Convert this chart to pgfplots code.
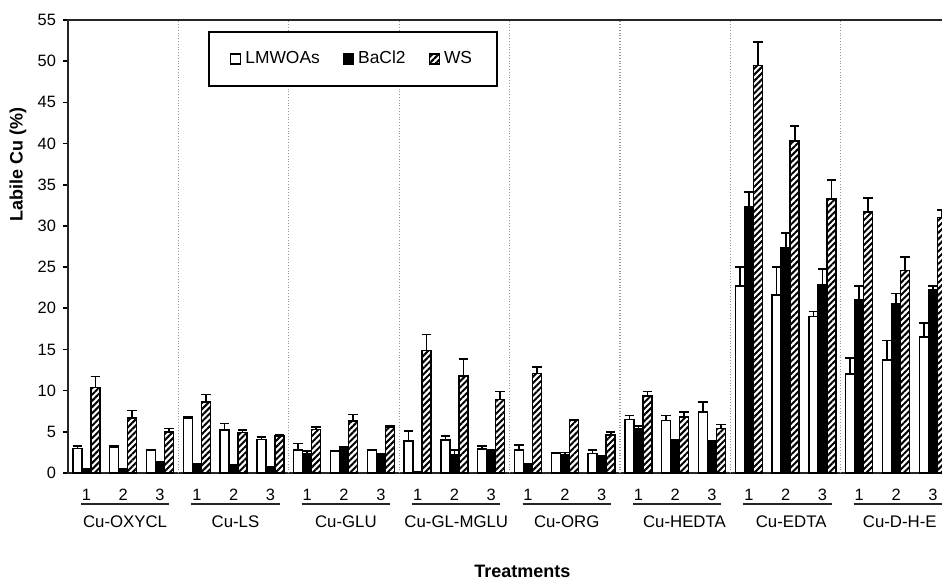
\documentclass[border=0pt]{standalone}
\usepackage{fontspec}
\setmainfont{Liberation Sans}
\usepackage{pgfplots}
\usepackage{pgfplotstable}
\pgfplotsset{compat=1.18}
\usetikzlibrary{patterns,patterns.meta}

\pgfplotstableread{
x y e
0 3.0 0.3
1 3.1 0.2
2 2.7 0.15
3 6.7 0.1
4 5.2 0.8
5 4.1 0.3
6 2.8 0.8
7 2.6 0.1
8 2.7 0.1
9 3.9 1.2
10 4.0 0.5
11 2.9 0.4
12 2.8 0.6
13 2.4 0.05
14 2.4 0.4
15 6.5 0.5
16 6.4 0.6
17 7.4 1.2
18 22.7 2.3
19 21.6 3.4
20 19.0 0.6
21 12.0 2.0
22 13.7 2.4
23 16.5 1.7
}\lmw

\pgfplotstableread{
x y e
0 0.45 0.1
1 0.5 0.05
2 1.25 0.05
3 1.1 0.05
4 0.9 0.05
5 0.7 0.05
6 2.4 0.3
7 2.9 0.3
8 2.2 0.1
9 0.1 0.05
10 2.2 0.6
11 2.7 0.1
12 1.1 0.05
13 2.2 0.3
14 1.8 0.3
15 5.4 0.3
16 3.8 0.2
17 3.8 0.1
18 32.3 1.8
19 27.3 1.8
20 22.9 1.9
21 21.1 1.6
22 20.5 1.3
23 22.2 0.5
}\bacl

\pgfplotstableread{
x y e
0 10.4 1.3
1 6.7 0.9
2 5.0 0.4
3 8.6 0.95
4 4.9 0.3
5 4.5 0.1
6 5.3 0.3
7 6.3 0.8
8 5.6 0.1
9 14.9 1.9
10 11.8 2.0
11 8.95 0.95
12 12.1 0.8
13 6.35 0.1
14 4.6 0.4
15 9.35 0.55
16 6.8 0.6
17 5.4 0.5
18 49.5 2.8
19 40.3 1.8
20 33.25 2.3
21 31.7 1.7
22 24.6 1.6
23 31.0 0.9
}\ws

\pgfplotsset{
  mylegend/.style={legend image code/.code={\draw[##1] (0pt,-2.5pt) rectangle (5pt,2.5pt);}},
  myerr/.style={error bars/.cd, y dir=plus, y explicit,
     error bar style={line width=0.85pt, black},
     error mark options={rotate=90, line width=0.85pt, mark size=2.4pt, black}},
}

\begin{document}
\begin{tikzpicture}
\begin{axis}[
  scale only axis, width=438.5pt, height=226.5pt,
  xmin=-0.5, xmax=23.33, ymin=0, ymax=55,
  ybar=0pt, bar width=0.245,
  clip=false,
  axis line style={line width=1pt, black!85},
  tick align=outside, major tick length=2.5pt,
  ytick={0,5,...,55}, ytick pos=left,
  xtick={0,...,23},
  xticklabels={1,2,3,1,2,3,1,2,3,1,2,3,1,2,3,1,2,3,1,2,3,1,2,3},
  xtick style={draw=none},
  extra x ticks={2.5,5.5,8.5,11.5,14.5,17.5,20.5},
  extra x tick labels={},
  extra x tick style={grid=major, major grid style={densely dotted, black!40, line width=0.6pt}, tick style={draw=none}},
  ytick style={line width=0.8pt, black},
  /pgf/number format/assume math mode=true,
  ticklabel style={font=\fontsize{8.2}{9.5}\selectfont},
  xticklabel style={yshift=-2pt},
  every axis x label/.style={at={(axis description cs:0.518,0)}, yshift=-49pt, anchor=center, font=\bfseries\fontsize{9}{11}\selectfont},
  every axis y label/.style={at={(axis description cs:0,0.68)}, xshift=-25pt, rotate=90, anchor=center, font=\bfseries\fontsize{9}{11}\selectfont},
  xlabel={Treatments},
  ylabel={Labile Cu (\%)},
  legend columns=3,
  legend style={at={(axis description cs:0.1596,0.9757)}, anchor=north west,
     draw=black, line width=1pt, font=\fontsize{8.7}{10}\selectfont,
     inner xsep=10.5pt, inner ysep=7.5pt,
     /tikz/every even column/.append style={column sep=9.5pt}},
]
\addplot[draw=black, fill=white, line width=0.7pt, mylegend, myerr] table[x=x, y=y, y error=e] {\lmw};
\addlegendentry{LMWOAs}
\addplot[draw=black, fill=black, line width=0.7pt, mylegend, myerr] table[x=x, y=y, y error=e] {\bacl};
\addlegendentry{BaCl2}
\addplot[draw=black, pattern={Lines[angle=45, distance=2.2pt, line width=1pt]}, pattern color=black, line width=0.7pt, mylegend, myerr] table[x=x, y=y, y error=e] {\ws};
\addlegendentry{WS}

\draw[line width=0.75pt, black!85] ([yshift=-15.5pt]axis cs:-0.15,0) -- ([yshift=-15.5pt]axis cs:2.25,0);
\draw[line width=0.75pt, black!85] ([yshift=-15.5pt]axis cs:2.85,0) -- ([yshift=-15.5pt]axis cs:5.25,0);
\draw[line width=0.75pt, black!85] ([yshift=-15.5pt]axis cs:5.85,0) -- ([yshift=-15.5pt]axis cs:8.25,0);
\draw[line width=0.75pt, black!85] ([yshift=-15.5pt]axis cs:8.85,0) -- ([yshift=-15.5pt]axis cs:11.25,0);
\draw[line width=0.75pt, black!85] ([yshift=-15.5pt]axis cs:11.85,0) -- ([yshift=-15.5pt]axis cs:14.25,0);
\draw[line width=0.75pt, black!85] ([yshift=-15.5pt]axis cs:14.85,0) -- ([yshift=-15.5pt]axis cs:17.25,0);
\draw[line width=0.75pt, black!85] ([yshift=-15.5pt]axis cs:17.85,0) -- ([yshift=-15.5pt]axis cs:20.25,0);
\draw[line width=0.75pt, black!85] ([yshift=-15.5pt]axis cs:20.85,0) -- ([yshift=-15.5pt]axis cs:23.25,0);

\node[font=\fontsize{8.4}{10}\selectfont] at ([yshift=-24.5pt]axis cs:1.05,0) {Cu-OXYCL};
\node[font=\fontsize{8.4}{10}\selectfont] at ([yshift=-24.5pt]axis cs:4.05,0) {Cu-LS};
\node[font=\fontsize{8.4}{10}\selectfont] at ([yshift=-24.5pt]axis cs:7.05,0) {Cu-GLU};
\node[font=\fontsize{8.4}{10}\selectfont] at ([yshift=-24.5pt]axis cs:10.05,0) {Cu-GL-MGLU};
\node[font=\fontsize{8.4}{10}\selectfont] at ([yshift=-24.5pt]axis cs:13.05,0) {Cu-ORG};
\node[font=\fontsize{8.4}{10}\selectfont] at ([yshift=-24.5pt]axis cs:16.25,0) {Cu-HEDTA};
\node[font=\fontsize{8.4}{10}\selectfont] at ([yshift=-24.5pt]axis cs:19.15,0) {Cu-EDTA};
\node[font=\fontsize{8.4}{10}\selectfont] at ([yshift=-24.5pt]axis cs:22.1,0) {Cu-D-H-E};
\end{axis}
\pgfresetboundingbox
\path (-34pt,-53.5pt) rectangle (437pt,236.5pt);
\end{tikzpicture}
\end{document}
